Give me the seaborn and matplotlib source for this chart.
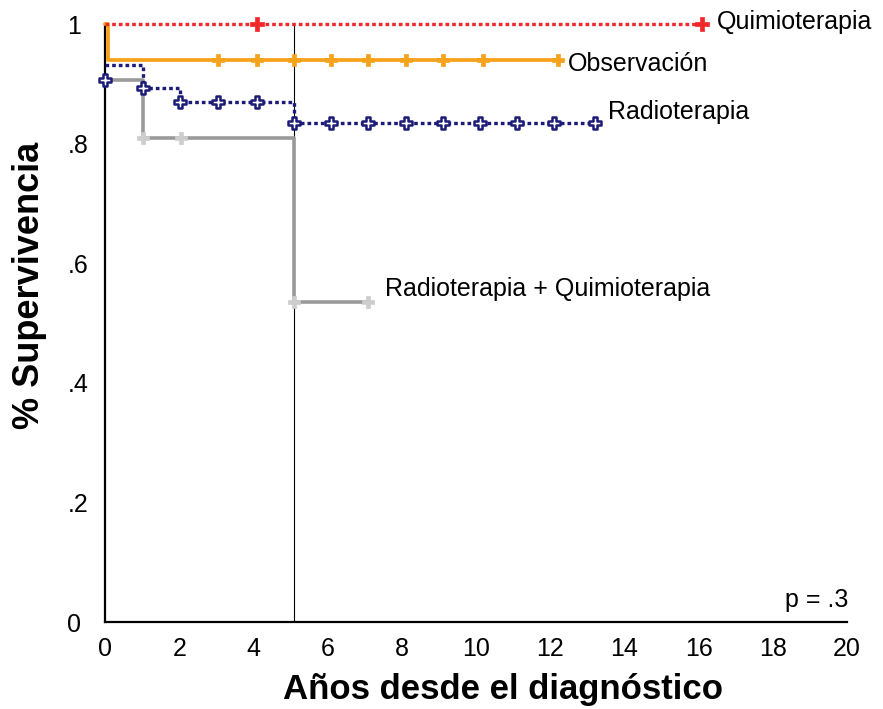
import matplotlib
matplotlib.use("Agg")
import matplotlib.pyplot as plt
import seaborn as sns
import pandas as pd
from matplotlib import font_manager

# ---- data ----
quimio_t = [0.0, 16.1]
quimio_s = [1.0, 1.0]
quimio_cens_t = [4.1, 16.1]
quimio_cens_s = [1.0, 1.0]

obs_t = [0.0, 0.08, 12.2]
obs_s = [1.0, 0.94, 0.94]
obs_cens_t = [3.05, 4.1, 5.1, 6.1, 7.1, 8.1, 9.1, 10.2, 12.2]
obs_cens_s = [0.94] * 9

radio_t = [0.0, 1.03, 2.03, 5.1, 13.2]
radio_s = [0.931, 0.893, 0.870, 0.834, 0.834]
radio_cens_t = [0.0, 1.03, 2.03, 3.05, 4.1, 5.1, 6.1, 7.1, 8.1, 9.1, 10.1, 11.1, 12.1, 13.2]
radio_cens_s = [0.906, 0.893, 0.870, 0.870, 0.870, 0.834, 0.834, 0.834, 0.834,
                0.834, 0.834, 0.834, 0.834, 0.834]

rq_t = [0.0, 1.03, 5.1, 7.1]
rq_s = [0.906, 0.809, 0.535, 0.535]
rq_cens_t = [1.03, 2.05, 5.1, 7.1]
rq_cens_s = [0.809, 0.809, 0.535, 0.535]

ref_year = 5.1
x_ticks = list(range(0, 21, 2))
y_ticks = [0, 0.2, 0.4, 0.6, 0.8, 1.0]
y_ticklabels = ["0", ".2", ".4", ".6", ".8", "1"]

labels = ["Quimioterapia", "Observación", "Radioterapia", "Radioterapia + Quimioterapia"]

# ---- style ----
sns.set_style("white")
plt.rcParams["font.family"] = ["Liberation Sans", "DejaVu Sans"]
plt.rcParams["text.color"] = "black"
plt.rcParams["axes.labelcolor"] = "black"
avail = {f.name for f in font_manager.fontManager.ttflist}
narrow = "Liberation Sans Narrow" if "Liberation Sans Narrow" in avail else "Liberation Sans"

W, H = 883, 709
fig = plt.figure(figsize=(W / 100, H / 100), dpi=100)
ax = fig.add_axes([105 / W, 1 - 622 / H, (847 - 105) / W, (622 - 24) / H])

RED = "#f0282a"
ORANGE = "#f7a21b"
NAVY = "#1c1c78"
GRAY = "#9a9a9a"
LGRAY = "#cdcdcd"

dot = (0, (1.1, 0.9))

# step curves
sns.lineplot(x=quimio_t, y=quimio_s, ax=ax, color=RED, lw=2.4, linestyle=dot,
             drawstyle="steps-post", sort=False, estimator=None, clip_on=False, zorder=5)
sns.lineplot(x=obs_t, y=obs_s, ax=ax, color=ORANGE, lw=2.7,
             drawstyle="steps-post", sort=False, estimator=None, clip_on=False, zorder=4)
sns.lineplot(x=radio_t, y=radio_s, ax=ax, color=NAVY, lw=2.4, linestyle=dot,
             drawstyle="steps-post", sort=False, estimator=None, clip_on=False, zorder=4)
sns.lineplot(x=rq_t, y=rq_s, ax=ax, color=GRAY, lw=2.6,
             drawstyle="steps-post", sort=False, estimator=None, clip_on=False, zorder=3)

# censor marks
sns.scatterplot(x=quimio_cens_t, y=quimio_cens_s, ax=ax, marker="P", s=90,
                color=RED, edgecolor=RED, linewidth=0.5, clip_on=False, zorder=6)
sns.scatterplot(x=obs_cens_t, y=obs_cens_s, ax=ax, marker="P", s=80,
                color=ORANGE, edgecolor=ORANGE, linewidth=0.5, clip_on=False, zorder=6)
sns.scatterplot(x=radio_cens_t, y=radio_cens_s, ax=ax, marker="P", s=80,
                facecolor="white", edgecolor=NAVY, linewidth=1.8, clip_on=False, zorder=6)
sns.scatterplot(x=rq_cens_t, y=rq_cens_s, ax=ax, marker="P", s=80,
                color=LGRAY, edgecolor=LGRAY, linewidth=0.5, clip_on=False, zorder=6)

ax.axvline(ref_year, ymin=0, ymax=1, color="black", lw=0.8, zorder=2)

ax.set_xlim(0, 20)
ax.set_ylim(0, 1)
ax.set_xticks(x_ticks)
ax.set_yticks(y_ticks)
ax.set_yticklabels(y_ticklabels)
for s in ["top", "right"]:
    ax.spines[s].set_visible(False)
for s in ["left", "bottom"]:
    ax.spines[s].set_linewidth(1.6)
    ax.spines[s].set_color("black")
ax.tick_params(axis="x", direction="inout", length=6, width=1.2, labelsize=18, pad=8, colors="black")
ax.tick_params(axis="y", direction="out", length=5, width=1.2, labelsize=18, pad=22, colors="black")
for lbl in ax.get_yticklabels():
    lbl.set_horizontalalignment("left")

ax.set_xlabel("")
ax.set_ylabel("")

# text labels
def px(xp, yp):
    return (xp - 105) / 37.1, (622 - yp) / 598.0

tk = dict(fontsize=18, color="black", va="center", ha="left")
ax.text(*px(717, 22), labels[0], **tk, clip_on=False)
ax.text(*px(568, 64), labels[1], **tk, clip_on=False)
ax.text(*px(608, 112), labels[2], **tk, clip_on=False)
ax.text(*px(385, 289), labels[3], **tk, clip_on=False)
ax.text(*px(785, 600), "p = .3", **tk, clip_on=False)

fig.text(503 / W, 1 - 689 / H, "Años desde el diagnóstico", fontsize=25,
         fontweight="bold", family=[narrow, "Liberation Sans"], ha="center", va="center",
         color="black")
fig.text(30 / W, 1 - 285 / H, "% Supervivencia", fontsize=26, fontweight="bold",
         rotation=90, ha="center", va="center", color="black")

fig.savefig("out.png", dpi=100)
